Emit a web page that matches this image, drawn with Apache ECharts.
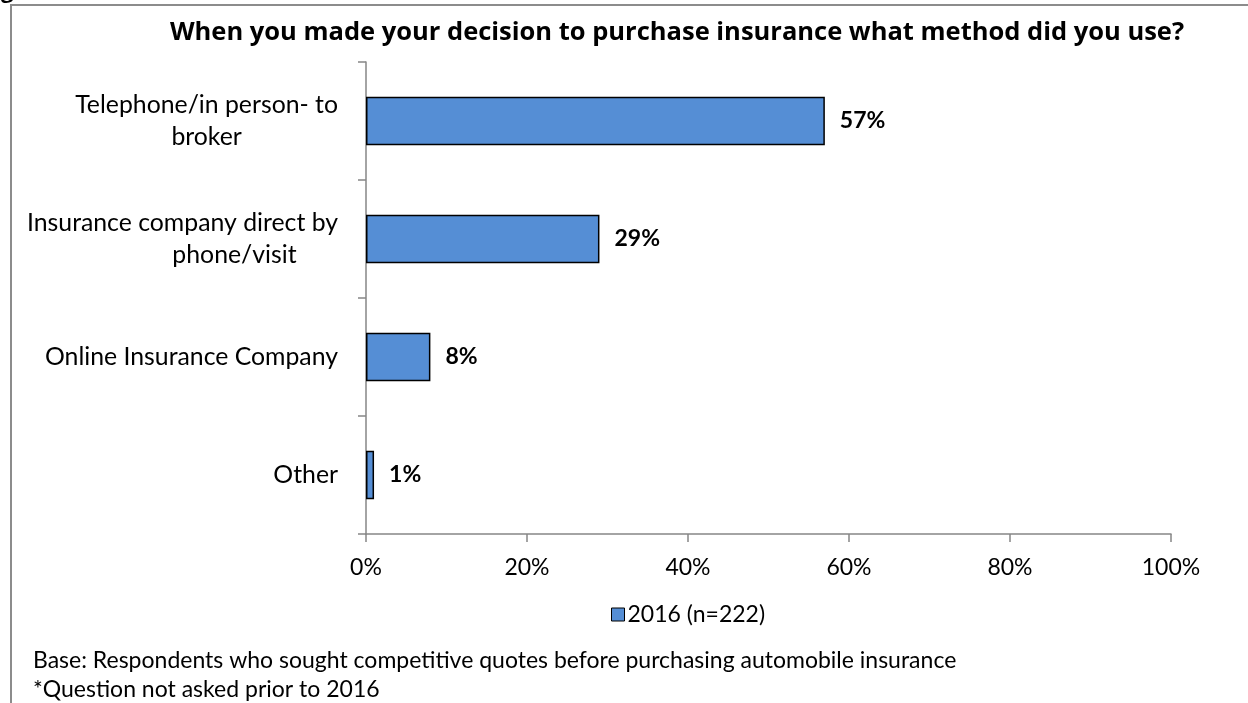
<!DOCTYPE html>
<html>
<head>
<meta charset="utf-8">
<title>Insurance purchase method</title>
<script src="https://cdn.jsdelivr.net/npm/echarts@6/dist/echarts.min.js"></script>
<style>
  html, body { margin: 0; padding: 0; background: #fff; }
  #chart { width: 1248px; height: 703px; }
</style>
</head>
<body>
<div id="chart"></div>
<script>
// Survey answers, top to bottom
const categories = [
  'Telephone/in person- to\nbroker',
  'Insurance company direct by\nphone/visit',
  'Online Insurance Company',
  'Other'
];
const values2016 = [57, 29, 8, 1];
const seriesName = '2016 (n=222)';
const xTicks = [0, 20, 40, 60, 80, 100];

const titleText = 'When you made your decision to purchase insurance what method did you use?';
const footnotes = [
  'Base: Respondents who sought competitive quotes before purchasing automobile insurance',
  '*Question not asked prior to 2016'
];

const FONT = 'Lato, "Open Sans", sans-serif';
const TITLE_FONT = '"Open Sans", Lato, sans-serif';
const AXIS_GREY = '#868686';
const LABEL_SIZE = 24.8;
const TEXT_SIZE = 23;

const chart = echarts.init(document.getElementById('chart'), null, { renderer: 'canvas' });

// each wrapped label: lines centred inside a right-aligned block
function labelFormatter(v) {
  const lines = v.split('\n');
  if (lines.length === 1) return '{c|' + v + '}';
  if (v.indexOf('phone/visit') >= 0) return '{c|' + lines[0] + '}\n{s|' + lines[1] + '}';
  return lines.map(l => '{c|' + l + '}').join('\n');
}

chart.setOption({
  animation: false,
  textStyle: { fontFamily: FONT },
  title: {
    text: titleText,
    left: 672,
    top: 15,
    textAlign: 'center',
    textStyle: { fontFamily: TITLE_FONT, fontSize: 25.5, fontWeight: 'bold', color: '#000' }
  },
  legend: {
    data: [seriesName],
    left: 606,
    top: 598,
    itemWidth: 13,
    itemHeight: 13,
    itemGap: 5,
    icon: 'rect',
    itemStyle: { borderColor: '#000', borderWidth: 1 },
    textStyle: { fontFamily: FONT, fontSize: TEXT_SIZE, color: '#000', padding: [0, 0, 0, -2] }
  },
  grid: { left: 366, right: 77, top: 62, bottom: 169, containLabel: false },
  xAxis: {
    type: 'value',
    min: 0,
    max: 100,
    interval: 20,
    splitLine: { show: false },
    axisLine: { show: true, lineStyle: { color: AXIS_GREY, width: 1.5 } },
    axisTick: { show: true, length: 8, lineStyle: { color: AXIS_GREY, width: 1.5 } },
    axisLabel: {
      margin: 22,
      fontFamily: FONT,
      fontSize: TEXT_SIZE,
      color: '#000',
      customValues: xTicks,
      formatter: v => v + '%'
    }
  },
  yAxis: {
    type: 'category',
    inverse: true,
    data: categories,
    axisLine: { show: true, lineStyle: { color: AXIS_GREY, width: 1.5 } },
    axisTick: { show: true, length: 8, alignWithLabel: false, lineStyle: { color: AXIS_GREY, width: 1.5 } },
    axisLabel: {
      margin: 28,
      fontFamily: FONT,
      fontSize: LABEL_SIZE,
      color: '#000',
      lineHeight: 32,
      align: 'right',
      formatter: labelFormatter,
      rich: {
        c: { align: 'center', fontFamily: FONT, fontSize: LABEL_SIZE, color: '#000', lineHeight: 32 },
        s: { align: 'center', fontFamily: FONT, fontSize: LABEL_SIZE, color: '#000', lineHeight: 32, padding: [0, 0, 0, 104] }
      }
    }
  },
  series: [{
    name: seriesName,
    type: 'bar',
    data: values2016,
    barCategoryGap: '59%',
    itemStyle: { color: '#558ED5', borderColor: '#000', borderWidth: 1.5 },
    label: {
      show: true,
      position: 'right',
      distance: 15,
      formatter: p => p.value + '%',
      fontFamily: FONT,
      fontSize: TEXT_SIZE,
      fontWeight: 'bold',
      color: '#000'
    }
  }],
  graphic: [
    // chart frame (continues past the right and bottom edges)
    {
      type: 'rect',
      shape: { x: 11, y: 5, width: 1400, height: 800 },
      style: { fill: null, stroke: '#8c8c8c', lineWidth: 2 },
      silent: true
    },
    {
      type: 'text',
      x: 1, y: -19,
      style: { text: 'g', font: 'bold 22px ' + TITLE_FONT, fill: '#000' },
      silent: true
    },
    {
      type: 'text',
      x: 33, y: 661,
      style: { text: footnotes[0], font: TEXT_SIZE + 'px ' + FONT, fill: '#000', verticalAlign: 'middle' },
      silent: true
    },
    {
      type: 'text',
      x: 33, y: 690,
      style: { text: footnotes[1], font: TEXT_SIZE + 'px ' + FONT, fill: '#000', verticalAlign: 'middle' },
      silent: true
    }
  ]
});
</script>
</body>
</html>
